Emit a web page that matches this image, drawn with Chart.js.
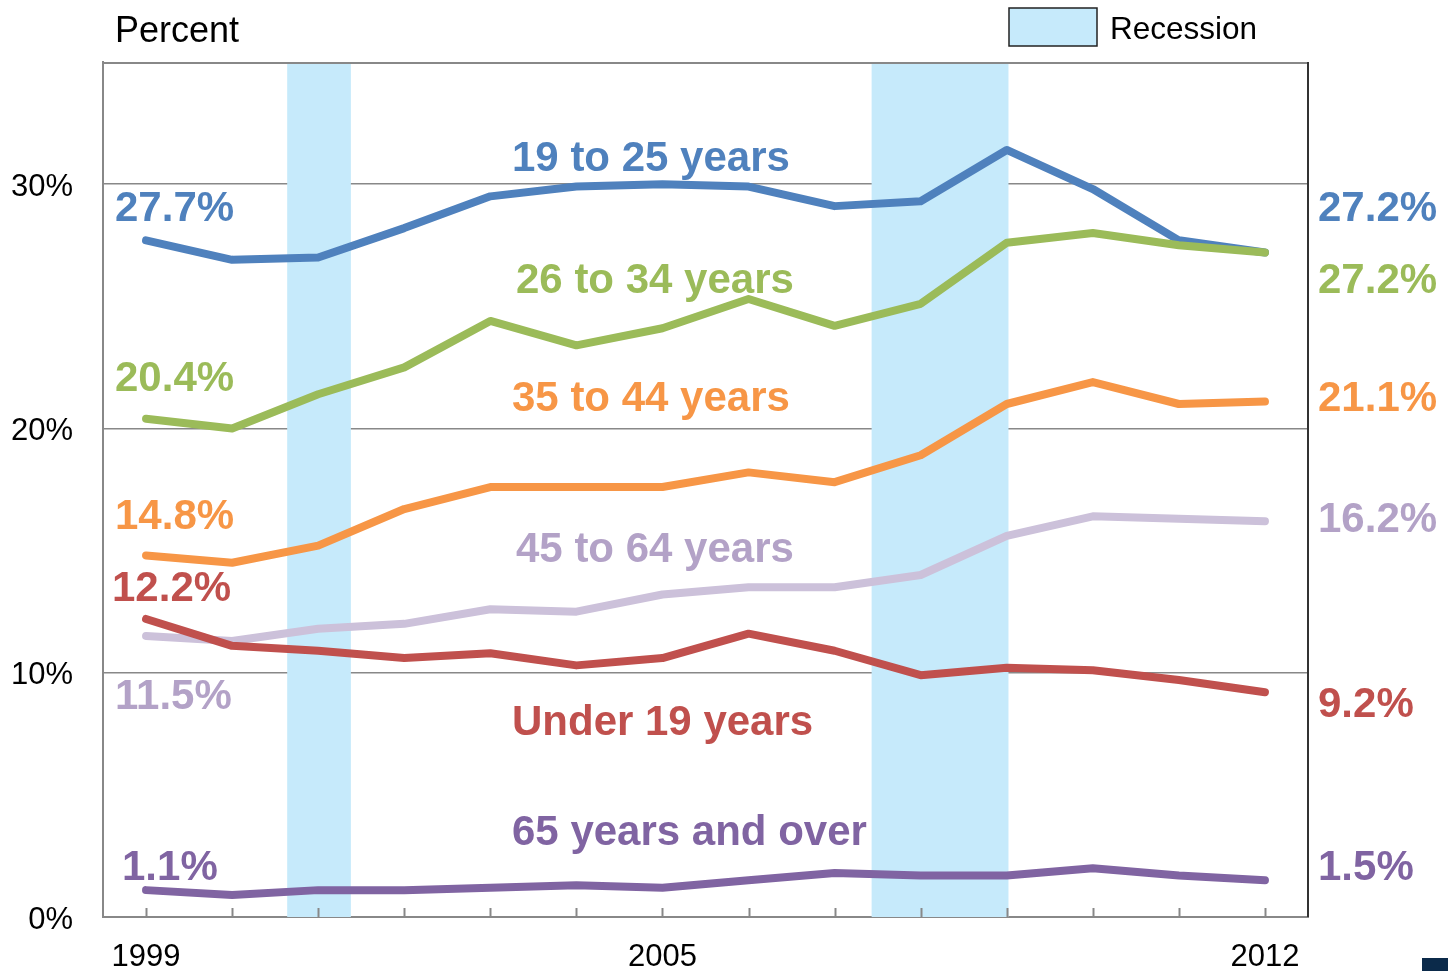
<!DOCTYPE html>
<html>
<head>
<meta charset="utf-8">
<script src="https://cdn.jsdelivr.net/npm/chart.js@4"></script>
<style>
  html, body { margin: 0; padding: 0; background: #fff; }
  #wrap { width: 1448px; height: 971px; }
</style>
</head>
<body>
<div id="wrap"><canvas id="chart" width="1448" height="971"></canvas></div>
<script>
// 年（横軸）
const years = ['1999','2000','2001','2002','2003','2004','2005','2006','2007','2008','2009','2010','2011','2012'];
const shownYears = ['1999', '2005', '2012'];

// 年齢層ごとの値（%）
const age19to25 = [27.7, 26.9, 27.0, 28.2, 29.5, 29.9, 30.0, 29.9, 29.1, 29.3, 31.4, 29.8, 27.7, 27.2];
const age26to34 = [20.4, 20.0, 21.4, 22.5, 24.4, 23.4, 24.1, 25.3, 24.2, 25.1, 27.6, 28.0, 27.5, 27.2];
const age35to44 = [14.8, 14.5, 15.2, 16.7, 17.6, 17.6, 17.6, 18.2, 17.8, 18.9, 21.0, 21.9, 21.0, 21.1];
const age45to64 = [11.5, 11.3, 11.8, 12.0, 12.6, 12.5, 13.2, 13.5, 13.5, 14.0, 15.6, 16.4, 16.3, 16.2];
const ageUnder19 = [12.2, 11.1, 10.9, 10.6, 10.8, 10.3, 10.6, 11.6, 10.9, 9.9, 10.2, 10.1, 9.7, 9.2];
const age65plus = [1.1, 0.9, 1.1, 1.1, 1.2, 1.3, 1.2, 1.5, 1.8, 1.7, 1.7, 2.0, 1.7, 1.5];

// 景気後退期（年の小数位置）
const recessionFrom = [2000.64, 2007.43];
const recessionTo = [2001.38, 2009.02];

// y軸の目盛り
const yTicks = [0, 10, 20, 30];

const FONT = "'Liberation Sans', Arial, sans-serif";
const BAND = '#C6EAFB';

// 系列名と端の値ラベル（位置はキャンバス座標）
const annotations = [
  { text: '19 to 25 years', color: '#4F81BD', x: 512, y: 159 },
  { text: '26 to 34 years', color: '#9BBB59', x: 516, y: 281 },
  { text: '35 to 44 years', color: '#F79646', x: 512, y: 399 },
  { text: '45 to 64 years', color: '#B3A2C7', x: 516, y: 550 },
  { text: 'Under 19 years', color: '#C0504D', x: 512, y: 723 },
  { text: '65 years and over', color: '#8064A2', x: 512, y: 833 },
  { text: '27.7%', color: '#4F81BD', x: 115, y: 209 },
  { text: '20.4%', color: '#9BBB59', x: 115, y: 379 },
  { text: '14.8%', color: '#F79646', x: 115, y: 517 },
  { text: '12.2%', color: '#C0504D', x: 112, y: 589 },
  { text: '11.5%', color: '#B3A2C7', x: 115, y: 697 },
  { text: '1.1%', color: '#8064A2', x: 122, y: 868 },
  { text: '27.2%', color: '#4F81BD', x: 1318, y: 209 },
  { text: '27.2%', color: '#9BBB59', x: 1318, y: 281 },
  { text: '21.1%', color: '#F79646', x: 1318, y: 399 },
  { text: '16.2%', color: '#B3A2C7', x: 1318, y: 520 },
  { text: '9.2%', color: '#C0504D', x: 1318, y: 705 },
  { text: '1.5%', color: '#8064A2', x: 1318, y: 868 }
];

// 景気後退の帯・枠・目盛り・注記を描くプラグイン
const decorPlugin = {
  id: 'decor',
  beforeDatasetsDraw(chart) {
    const { ctx, chartArea: a, scales: { x } } = chart;
    const yearPx = yr => x.getPixelForValue(yr - Number(years[0]));
    ctx.save();
    ctx.fillStyle = BAND;
    recessionFrom.forEach((from, i) => {
      const x0 = yearPx(from), x1 = yearPx(recessionTo[i]);
      ctx.fillRect(x0, a.top, x1 - x0, a.bottom - a.top);
    });
    // 内向きの目盛り
    ctx.strokeStyle = '#888';
    ctx.lineWidth = 2;
    years.forEach((_, i) => {
      const px = Math.round(x.getPixelForValue(i)) + 0.5;
      ctx.beginPath();
      ctx.moveTo(px, a.bottom);
      ctx.lineTo(px, a.bottom - 9);
      ctx.stroke();
    });
    // 上と右の枠
    ctx.beginPath();
    ctx.moveTo(a.left, a.top + 1);
    ctx.lineTo(a.right, a.top + 1);
    ctx.stroke();
    ctx.strokeStyle = '#333';
    ctx.beginPath();
    ctx.moveTo(a.right, a.top);
    ctx.lineTo(a.right, a.bottom);
    ctx.stroke();
    ctx.restore();
  },
  afterDraw(chart) {
    const { ctx } = chart;
    ctx.save();
    ctx.textBaseline = 'middle';
    ctx.textAlign = 'left';
    ctx.fillStyle = '#000';
    ctx.font = `36px ${FONT}`;
    ctx.fillText('Percent', 115, 32);
    // 凡例
    ctx.fillStyle = BAND;
    ctx.fillRect(1009, 8, 88, 38);
    ctx.strokeStyle = '#222';
    ctx.lineWidth = 1.5;
    ctx.strokeRect(1009, 8, 88, 38);
    ctx.fillStyle = '#000';
    ctx.font = `31.5px ${FONT}`;
    ctx.fillText('Recession', 1110, 30);
    // 系列ラベル
    ctx.font = `bold 42px ${FONT}`;
    annotations.forEach(n => {
      ctx.fillStyle = n.color;
      ctx.fillText(n.text, n.x, n.y);
    });
    // 右下の四角
    ctx.fillStyle = '#0B2A4A';
    ctx.fillRect(1422, 958, 26, 13);
    ctx.restore();
  }
};

const lineStyle = color => ({
  borderColor: color,
  backgroundColor: color,
  borderWidth: 8,
  pointRadius: 0,
  borderCapStyle: 'round',
  borderJoinStyle: 'round',
  tension: 0,
  fill: false
});

new Chart(document.getElementById('chart').getContext('2d'), {
  type: 'line',
  data: {
    labels: years,
    datasets: [
      { label: '65 years and over', data: age65plus, ...lineStyle('#8064A2') },
      { label: 'Under 19 years', data: ageUnder19, ...lineStyle('#C0504D') },
      { label: '45 to 64 years', data: age45to64, ...lineStyle('#CCC1DA') },
      { label: '35 to 44 years', data: age35to44, ...lineStyle('#F79646') },
      { label: '26 to 34 years', data: age26to34, ...lineStyle('#9BBB59') },
      { label: '19 to 25 years', data: age19to25, ...lineStyle('#4F81BD') }
    ]
  },
  options: {
    responsive: false,
    animation: false,
    layout: { padding: { left: 0, top: 62, right: 140, bottom: 0 } },
    plugins: {
      legend: { display: false },
      tooltip: { enabled: false }
    },
    scales: {
      x: {
        offset: true,
        grid: { display: false, drawTicks: false },
        border: { display: true, color: '#888', width: 2 },
        ticks: {
          autoSkip: false,
          maxRotation: 0,
          padding: 22,
          color: '#000',
          font: { family: FONT, size: 31 },
          callback: function (v) {
            const lab = this.getLabelForValue(v);
            return shownYears.includes(lab) ? lab : '';
          }
        },
        afterFit: s => { s.height = 54; }
      },
      y: {
        min: 0,
        max: 35,
        afterBuildTicks: s => { s.ticks = yTicks.map(v => ({ value: v })); },
        grid: { color: '#888', lineWidth: 1.5, drawTicks: false },
        border: { display: true, color: '#888', width: 2 },
        ticks: {
          padding: 30,
          labelOffset: 3,
          color: '#000',
          font: { family: FONT, size: 31 },
          callback: v => v + '%'
        },
        afterFit: s => { s.width = 103; }
      }
    }
  },
  plugins: [decorPlugin]
});
</script>
</body>
</html>
